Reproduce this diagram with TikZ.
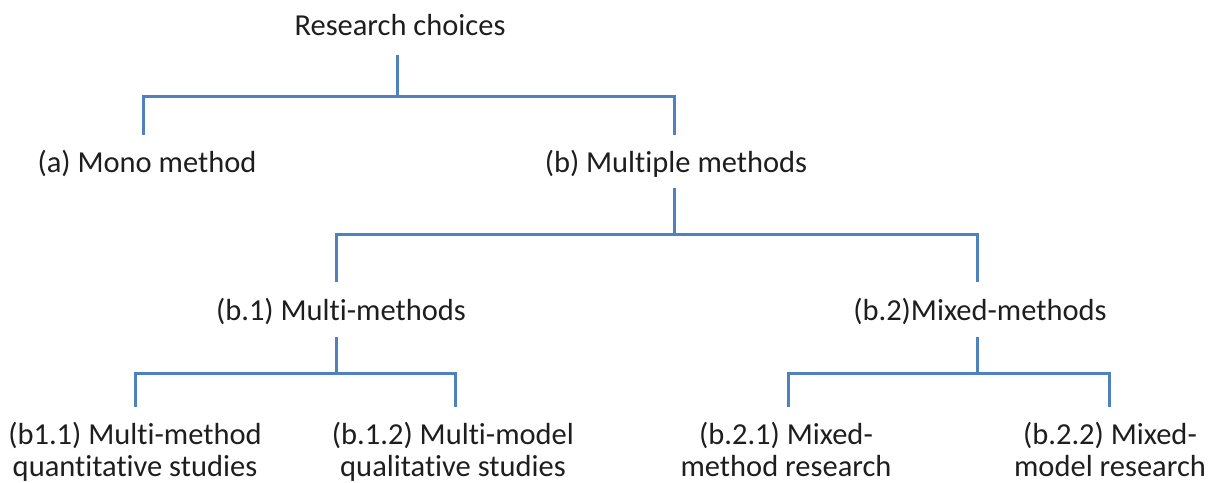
\documentclass[tikz,border=0pt]{standalone}
\usepackage{fontspec}
\setmainfont{Carlito}[RawFeature={-liga;-dlig;-calt}]
\definecolor{linkblue}{HTML}{4F81BD}
\definecolor{txt}{HTML}{1E1E1E}
\begin{document}
\begin{tikzpicture}[x=1pt,y=-1pt,
  lbl/.style={inner sep=0pt,anchor=base,text=txt,align=center,
    font=\fontsize{30.5}{32}\selectfont},
  conn/.style={draw=linkblue,line width=3pt}]
\useasboundingbox (0,0) rectangle (1217,482);
% texts
\node[lbl] (root) at (400,35) {Research choices};
\node[lbl] (mono) at (147,172) {(a) Mono method};
\node[lbl] (mult) at (676,172) {(b) Multiple methods};
\node[lbl] (b1) at (341,320) {(b.1) Multi-methods};
\node[lbl] (b2) at (980,320) {(b.2)Mixed-methods};
\node[lbl] (b11) at (135,476) {(b1.1) Multi-method\\quantitative studies};
\node[lbl] (b12) at (453,476) {(b.1.2) Multi-model\\qualitative studies};
\node[lbl] (b21) at (786,476) {(b.2.1) Mixed-\\method research};
\node[lbl] (b22) at (1110,476) {(b.2.2) Mixed-\\model research};
% joints
\coordinate (rootS) at (397,55);
\coordinate (monoN) at (143,135);
\coordinate (multN) at (674,135);
\coordinate (multS) at (674,188);
\coordinate (b1N) at (336,282);
\coordinate (b2N) at (977,282);
\coordinate (b1S) at (336,337);
\coordinate (b2S) at (977,337);
\coordinate (b11N) at (135,407);
\coordinate (b12N) at (455,407);
\coordinate (b21N) at (788,407);
\coordinate (b22N) at (1109,407);
% connectors
\draw[conn] (rootS) -- (397,96);
\draw[conn] (monoN) |- (multN |- 0,96) -- (multN);
\draw[conn] (multS) -- (674,234);
\draw[conn] (b1N) |- (b2N |- 0,234) -- (b2N);
\draw[conn] (b1S) -- (336,373);
\draw[conn] (b11N) |- (b12N |- 0,373) -- (b12N);
\draw[conn] (b2S) -- (977,373);
\draw[conn] (b21N) |- (b22N |- 0,373) -- (b22N);
\end{tikzpicture}
\end{document}
